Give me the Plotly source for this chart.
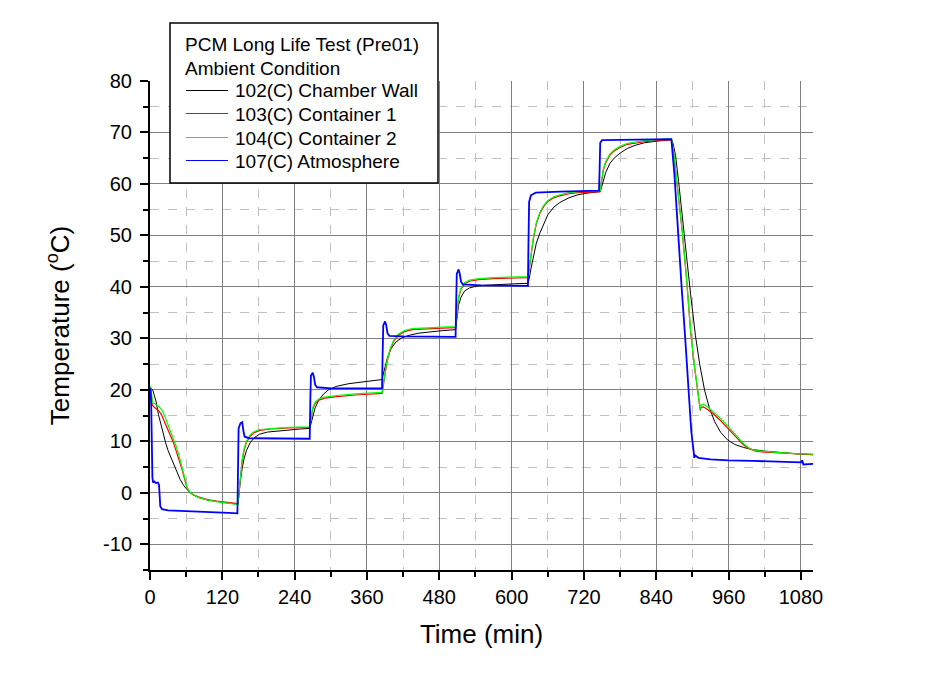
import plotly.graph_objects as go

# ---- data (time in min, temperature in °C) ----
t_wall = [0, 2, 5, 10, 14, 18, 22, 26, 30, 35, 40, 45, 50, 55, 60, 70, 80, 95, 110, 130, 146,
          148, 150, 153, 156, 160, 166, 173, 182, 195, 210, 230, 250, 265,
          267, 270, 274, 280, 288, 296, 310, 330, 355, 385,
          387, 390, 394, 400, 408, 418, 430, 445, 465, 485, 507,
          509, 512, 516, 522, 530, 540, 552, 565, 585, 605, 627,
          629, 632, 636, 641, 647, 653, 660, 670, 680, 695, 710, 730, 747,
          749, 752, 756, 763, 770, 780, 792, 805, 820, 840, 865,
          868, 872, 877, 883, 890, 897, 905, 912, 920, 928, 937, 947, 958, 970, 985,
          1000, 1020, 1045, 1070, 1100]
wall = [20.5, 20.3, 19.8, 17.8, 15.2, 13.2, 11.4, 9.7, 8.2, 6.7, 5.2, 3.8, 2.6, 1.6, 0.8, -0.3, -0.9, -1.4, -1.7, -2.0, -2.2,
        0.5, 2.5, 4.8, 6.6, 8.2, 9.7, 10.7, 11.4, 11.8, 12.0, 12.2, 12.4, 12.5,
        13.5, 15.0, 16.5, 18.0, 19.2, 20.0, 20.7, 21.2, 21.6, 22.0,
        23.0, 24.6, 26.3, 28.0, 29.3, 30.1, 30.6, 31.0, 31.3, 31.5, 31.7,
        34.0, 36.5, 38.0, 39.2, 39.8, 40.1, 40.3, 40.4, 40.5, 40.6, 40.7,
        41.5, 43.5, 46.0, 48.5, 50.5, 52.3, 54.0, 55.5, 56.4, 57.3, 57.9, 58.3, 58.5,
        59.3, 60.7, 62.2, 64.0, 65.0, 66.0, 66.9, 67.5, 68.0, 68.3, 68.6,
        67.8, 65.5, 60.5, 53.5, 46.0, 38.5, 30.5, 25.0, 20.0, 16.5, 13.8, 11.7, 10.3, 9.4, 8.8,
        8.4, 8.1, 7.8, 7.6, 7.4]

t_cont = [0, 2, 4, 8, 14, 19, 24, 28, 33, 38, 43, 48, 53, 58, 62, 66, 72, 80, 95, 110, 130, 146,
          148, 150, 153, 156, 160, 166, 173, 182, 200, 230, 265,
          267, 270, 274, 280, 290, 310, 340, 385,
          387, 390, 393, 398, 404, 412, 422, 435, 460, 485, 507,
          509, 512, 516, 522, 530, 545, 570, 600, 627,
          629, 632, 636, 641, 647, 653, 660, 670, 680, 695, 710, 730, 747,
          749, 752, 756, 763, 770, 780, 792, 805, 820, 840, 865,
          868, 872, 877, 883, 890, 897, 903, 908, 913, 914, 918, 925, 935, 945, 955, 965, 975, 985, 995,
          1005, 1020, 1045, 1070, 1100]
cont1 = [20.5, 19.5, 17.0, 16.5, 16.0, 15.2, 13.8, 12.7, 11.6, 10.0, 8.3, 6.5, 4.6, 2.4, 0.8, 0.1, -0.4, -0.8, -1.3, -1.6, -1.9, -2.1,
         0.3, 3.2, 6.2, 8.2, 9.8, 11.0, 11.7, 12.1, 12.4, 12.6, 12.7,
         14.3, 16.3, 17.4, 18.0, 18.4, 18.7, 19.0, 19.3,
         20.8, 23.3, 25.3, 27.6, 29.4, 30.6, 31.3, 31.7, 31.9, 32.0, 32.1,
         34.8, 37.8, 39.6, 40.6, 41.1, 41.4, 41.6, 41.7, 41.8,
         43.3, 46.3, 49.3, 52.3, 54.3, 55.6, 56.6, 57.3, 57.7, 58.1, 58.3, 58.4, 58.5,
         60.3, 62.6, 64.1, 65.6, 66.4, 67.1, 67.7, 68.0, 68.2, 68.4, 68.6,
         66.8, 62.8, 57.3, 50.8, 41.8, 31.3, 24.8, 20.3, 16.0, 16.6, 16.7, 16.2, 15.3, 14.2, 13.0, 11.8, 10.5, 9.3, 8.5,
         8.1, 7.9, 7.7, 7.5, 7.4]
cont2 = [20.8, 20.0, 17.5, 17.3, 16.8, 16.2, 15.0, 13.8, 12.5, 10.9, 9.2, 7.3, 5.2, 2.6, 0.9, 0.2, -0.4, -0.9, -1.4, -1.7, -2.0, -2.3,
         0.5, 3.5, 6.5, 8.5, 10.0, 11.2, 11.9, 12.3, 12.5, 12.7, 12.8,
         14.5, 16.5, 17.6, 18.2, 18.6, 18.9, 19.2, 19.5,
         21.0, 23.5, 25.5, 27.8, 29.6, 30.8, 31.5, 31.9, 32.1, 32.2, 32.3,
         35.0, 38.0, 39.8, 40.8, 41.3, 41.6, 41.8, 41.9, 42.0,
         43.5, 46.5, 49.5, 52.5, 54.5, 55.8, 56.8, 57.5, 57.9, 58.3, 58.5, 58.6, 58.7,
         60.5, 62.8, 64.3, 65.8, 66.6, 67.3, 67.9, 68.2, 68.4, 68.6, 68.8,
         67.0, 63.0, 57.5, 51.0, 42.0, 31.5, 25.0, 20.5, 16.2, 17.0, 17.2, 16.7, 15.7, 14.6, 13.4, 12.2, 10.8, 9.5, 8.6,
         8.2, 8.0, 7.8, 7.6, 7.5]

t_atm = [0, 1, 2, 3, 4, 5, 7, 10, 13, 15, 16, 17, 20, 30, 50, 80, 110, 130, 145,
         146, 147, 150, 153, 155, 157, 165, 200, 230, 265,
         266, 267, 270, 272, 274, 277, 300, 340, 385,
         386, 387, 390, 392, 394, 397, 420, 460, 507,
         508, 509, 512, 514, 516, 519, 550, 590, 627,
         628, 629, 632, 640, 680, 720, 745,
         746, 747, 750, 790, 830, 865,
         870, 875, 882, 888, 893, 898, 902, 903, 904, 910, 930, 960, 1000, 1040, 1080,
         1082, 1084, 1100]
atm = [20.3, 20.0, 17.0, 8.0, 3.0, 2.0, 2.2, 1.9, 2.0, 1.5, -1.0, -2.6, -3.2, -3.4, -3.5, -3.6, -3.8, -3.9, -4.0,
       5.0, 12.5, 13.5, 13.7, 12.0, 10.9, 10.6, 10.6, 10.6, 10.5,
       18.0, 22.8, 23.3, 22.5, 21.0, 20.5, 20.3, 20.3, 20.3,
       27.0, 32.5, 33.3, 32.5, 31.0, 30.5, 30.4, 30.4, 30.3,
       37.0, 42.5, 43.4, 42.5, 41.0, 40.5, 40.3, 40.2, 40.2,
       49.0, 56.5, 57.8, 58.3, 58.5, 58.6, 58.7,
       63.0, 68.0, 68.5, 68.6, 68.7, 68.7,
       62.0, 52.0, 40.0, 30.0, 20.5, 12.0, 8.0, 6.8, 7.3, 6.8, 6.5, 6.3, 6.2, 6.0, 5.9,
       6.3, 5.5, 5.6]

series_names = ["102(C) Chamber Wall", "103(C) Container 1", "104(C) Container 2", "107(C) Atmosphere"]
series_t = [t_wall, t_cont, t_cont, t_atm]
series_v = [wall, cont1, cont2, atm]
series_colors = ["#000000", "#FF0000", "#00FF00", "#0000FF"]
series_widths = [1.0, 1.2, 1.2, 1.8]

legend_title = ["PCM Long Life Test (Pre01)", "Ambient Condition"]

x_ticks = [0, 120, 240, 360, 480, 600, 720, 840, 960, 1080]
y_ticks = [-10, 0, 10, 20, 30, 40, 50, 60, 70, 80]

FONT = "Liberation Sans, Arial, sans-serif"
FS = 19

fig = go.Figure()
for name, tx, ty, col, w in zip(series_names, series_t, series_v, series_colors, series_widths):
    fig.add_trace(go.Scatter(x=tx, y=ty, mode="lines", name=name,
                             line=dict(color=col, width=w), showlegend=False))

axis_common = dict(
    showline=True, linecolor="black", linewidth=2,
    ticks="outside", ticklen=8, tickwidth=2, tickcolor="black",
    showgrid=True, gridcolor="#808080", gridwidth=1,
    zeroline=False, mirror=False,
    tickfont=dict(family=FONT, size=20, color="black"),
)

fig.update_xaxes(
    range=[0, 1100], tickvals=x_ticks, ticktext=[str(v) for v in x_ticks],
    title=dict(text="Time (min)", font=dict(family=FONT, size=26, color="black"), standoff=18),
    minor=dict(dtick=60, tick0=0, ticks="outside", ticklen=5, tickwidth=2, tickcolor="black",
               showgrid=True, gridcolor="#c0c0c0", griddash="dash", gridwidth=1),
    **axis_common,
)
fig.update_yaxes(
    range=[-15, 80], tickvals=y_ticks, ticktext=[str(v) for v in y_ticks],
    title=dict(text="Temperature (<sup>o</sup>C)", font=dict(family=FONT, size=26, color="black"), standoff=26),
    minor=dict(dtick=5, tick0=0, ticks="outside", ticklen=5, tickwidth=2, tickcolor="black",
               showgrid=True, gridcolor="#c0c0c0", griddash="dash", gridwidth=1),
    ticklabelstandoff=4,
    **axis_common,
)

# ---- hand-placed legend box (paper coordinates) ----
def px_x(p):
    return (p - 150) / 663.0

def px_y(p):
    return (570 - p) / 489.0

shapes = [dict(type="rect", xref="paper", yref="paper",
               x0=px_x(170), x1=px_x(438), y0=px_y(183), y1=px_y(23),
               line=dict(color="black", width=1.5), fillcolor="white", layer="above")]
annotations = []
for i, line in enumerate(legend_title):
    annotations.append(dict(xref="paper", yref="paper", x=px_x(183), y=px_y(45 + 23.2 * i),
                            text=line, showarrow=False, xanchor="left", yanchor="middle",
                            font=dict(family=FONT, size=FS, color="black")))
entry_y = [90.5, 113.5, 137.5, 160.5]
for name, col, yy in zip(series_names, series_colors, entry_y):
    shapes.append(dict(type="line", xref="paper", yref="paper",
                       x0=px_x(186), x1=px_x(228), y0=px_y(yy), y1=px_y(yy),
                       line=dict(color=col, width=1.2), layer="above"))
    annotations.append(dict(xref="paper", yref="paper", x=px_x(233), y=px_y(yy + 0.5),
                            text=name, showarrow=False, xanchor="left", yanchor="middle",
                            font=dict(family=FONT, size=FS, color="black")))

fig.update_layout(
    width=924, height=675,
    margin=dict(l=142, r=119, t=73, b=113, autoexpand=False),
    paper_bgcolor="white", plot_bgcolor="white",
    font=dict(family=FONT, size=FS, color="black"),
    showlegend=False,
    shapes=shapes,
    annotations=annotations,
)

fig.write_html("out.html")
